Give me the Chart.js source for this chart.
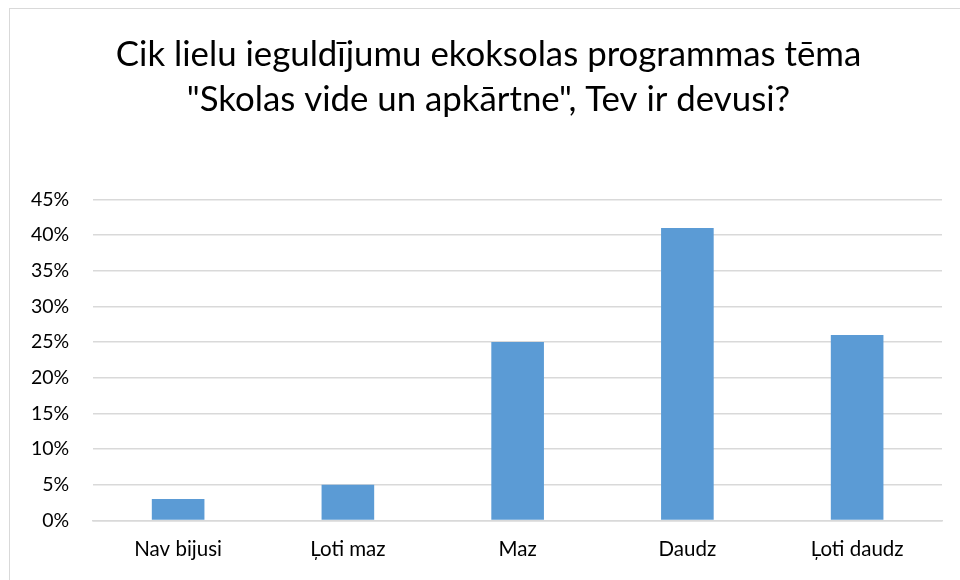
<!DOCTYPE html>
<html><head><meta charset="utf-8">
<script src="https://cdn.jsdelivr.net/npm/chart.js@4/dist/chart.umd.min.js"></script>
<style>
html,body{margin:0;padding:0;background:#fff;}
#frame{position:absolute;left:9px;top:8px;width:960px;height:600px;border:1px solid #d9d9d9;box-sizing:border-box;}
#wrap{position:absolute;left:0;top:0;width:960px;height:580px;}
</style></head>
<body>
<div id="frame"></div>
<div id="wrap"><canvas id="c" width="960" height="580"></canvas></div>
<script>
const categories = ["Nav bijusi", "Ļoti maz", "Maz", "Daudz", "Ļoti daudz"];
const values = [3, 5, 25, 41, 26];
const titleLines = ["Cik lielu ieguldījumu ekoksolas programmas tēma", "\"Skolas vide un apkārtne\", Tev ir devusi?"];
const FONT = "Lato, 'Open Sans', sans-serif";
const titleShift = {
  id: 'titleShift',
  afterLayout(chart) { if (chart.titleBlock) { chart.titleBlock.left += 28; } }
};
new Chart(document.getElementById('c'), {
  type: 'bar',
  data: { labels: categories, datasets: [{ data: values, backgroundColor: '#5B9BD5', barPercentage: 0.31, categoryPercentage: 1 }] },
  plugins: [titleShift],
  options: {
    responsive: false, animation: false,
    layout: { padding: { left: 7, right: 18, top: 10, bottom: 1 } },
    plugins: {
      legend: { display: false }, tooltip: { enabled: false },
      title: { display: true, text: titleLines, color: '#000', font: { family: FONT, size: 34.8, weight: 'normal', lineHeight: 1.3 }, padding: { top: 22, bottom: 77 } }
    },
    scales: {
      x: { grid: { display: false, drawTicks: false }, border: { display: true, color: '#d9d9d9', width: 1.5 },
           ticks: { color: '#000', font: { family: FONT, size: 20.5 }, padding: 17 } },
      y: { min: 0, max: 45, grid: { color: '#d9d9d9', lineWidth: 1.5, drawTicks: false }, border: { display: false },
           ticks: { stepSize: 5, color: '#000', font: { family: FONT, size: 19.5 }, padding: 24, callback: v => v + '%' } }
    }
  }
});
</script>
</body></html>
